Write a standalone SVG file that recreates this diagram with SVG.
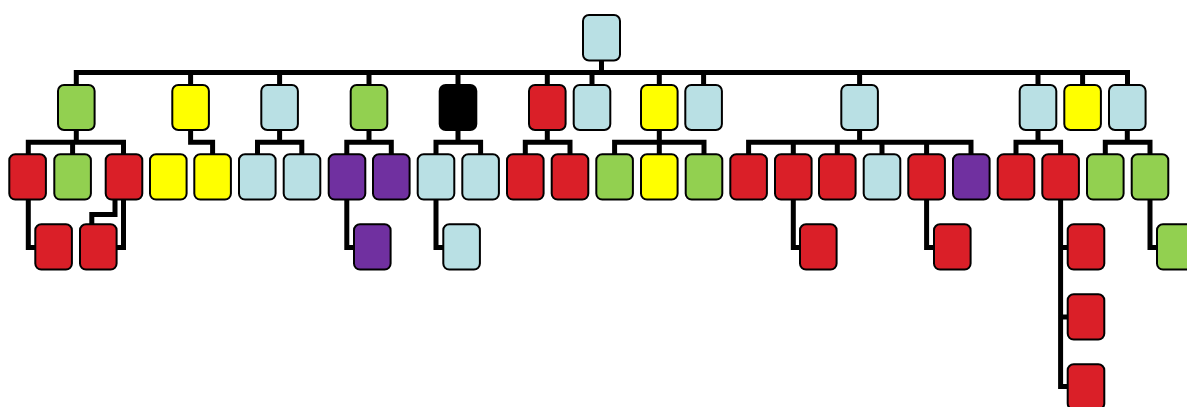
<svg xmlns="http://www.w3.org/2000/svg" width="1187" height="407" viewBox="0 0 1187 407">
<style>
.n{stroke:#000;stroke-width:2;rx:6;ry:6}
.r{fill:#DA1F28}.g{fill:#92D050}.y{fill:#FFFF00}.b{fill:#B9E0E4}.p{fill:#7030A0}.k{fill:#000}
.c path{fill:none;stroke:#000;stroke-width:5;stroke-linejoin:miter;stroke-linecap:butt}
</style>
<rect width="1187" height="407" fill="#fff"/>
<g id="connectors" class="c">
<path d="M601.5 60 V72.5"/>
<path d="M76.3 86 V72.5 H1127.5 V86"/>
<path d="M190.6 72.5 V86 M279.6 72.5 V86 M369 72.5 V86 M458 72.5 V86 M547.3 72.5 V86 M592 72.5 V86 M659.3 72.5 V86 M703.6 72.5 V86 M859.6 72.5 V86 M1038 72.5 V86 M1082.6 72.5 V86"/>
<path d="M36 247.5 H28.3 V142.3 H123.5 V247.5 H116"/>
<path d="M72.6 142.3 V156 M76.3 130 V142.3"/>
<path d="M115 200 V214.5 H91.8 V226"/>
<path d="M190.6 130 V142.3 H212.6 V156"/>
<path d="M257.5 156 V142.3 H301.8 V156 M279.6 130 V142.3"/>
<path d="M355 247.5 H346.8 V142.3 H391.3 V156 M369 130 V142.3"/>
<path d="M444 247.5 H436 V142.3 H480.6 V156 M458 130 V142.3"/>
<path d="M525.3 156 V142.3 H570 V156 M547.3 130 V142.3"/>
<path d="M614.6 156 V142.3 H704 V156 M659.3 130 V156"/>
<path d="M748.6 156 V142.3 H971 V156 M837.3 142.3 V156 M882 142.3 V156 M859.6 130 V142.3"/>
<path d="M793.3 142.3 V247.5 H801 M926.6 142.3 V247.5 H935"/>
<path d="M1016 156 V142.3 H1060.6 V386.5 H1068 M1060.6 247.5 H1068 M1060.6 317 H1068 M1038 130 V142.3"/>
<path d="M1105.3 156 V142.3 H1150 V247.5 H1158 M1127.3 130 V142.3"/>
</g>
<g id="root"><rect class="n b" x="583" y="15" width="37" height="45.5"/></g>
<g id="l1">
<g id="a1"><rect class="n g" x="58" y="85" width="36.6" height="45"/></g>
<g id="a2"><rect class="n y" x="172.3" y="85" width="36.6" height="45"/></g>
<g id="a3"><rect class="n b" x="261.3" y="85" width="36.6" height="45"/></g>
<g id="a4"><rect class="n g" x="350.7" y="85" width="36.6" height="45"/></g>
<g id="a5"><rect class="n k" x="439.7" y="85" width="36.6" height="45"/></g>
<g id="a6"><rect class="n r" x="529" y="85" width="36.6" height="45"/></g>
<g id="a7"><rect class="n b" x="573.7" y="85" width="36.6" height="45"/></g>
<g id="a8"><rect class="n y" x="641" y="85" width="36.6" height="45"/></g>
<g id="a9"><rect class="n b" x="685.3" y="85" width="36.6" height="45"/></g>
<g id="a10"><rect class="n b" x="841.3" y="85" width="36.6" height="45"/></g>
<g id="a11"><rect class="n b" x="1019.7" y="85" width="36.6" height="45"/></g>
<g id="a12"><rect class="n y" x="1064.3" y="85" width="36.6" height="45"/></g>
<g id="a13"><rect class="n b" x="1109" y="85" width="36.6" height="45"/></g>
</g>
<g id="l2">
<g id="b1"><rect class="n r" x="9.3" y="154.3" width="36.6" height="45.3"/></g>
<g id="b2"><rect class="n g" x="54.3" y="154.3" width="36.6" height="45.3"/></g>
<g id="b3"><rect class="n r" x="105.7" y="154.3" width="36.6" height="45.3"/></g>
<g id="b4"><rect class="n y" x="150" y="154.3" width="36.6" height="45.3"/></g>
<g id="b5"><rect class="n y" x="194.3" y="154.3" width="36.6" height="45.3"/></g>
<g id="b6"><rect class="n b" x="239" y="154.3" width="36.6" height="45.3"/></g>
<g id="b7"><rect class="n b" x="283.7" y="154.3" width="36.6" height="45.3"/></g>
<g id="b8"><rect class="n p" x="328.7" y="154.3" width="36.6" height="45.3"/></g>
<g id="b9"><rect class="n p" x="373" y="154.3" width="36.6" height="45.3"/></g>
<g id="b10"><rect class="n b" x="417.7" y="154.3" width="36.6" height="45.3"/></g>
<g id="b11"><rect class="n b" x="462.3" y="154.3" width="36.6" height="45.3"/></g>
<g id="b12"><rect class="n r" x="507" y="154.3" width="36.6" height="45.3"/></g>
<g id="b13"><rect class="n r" x="551.7" y="154.3" width="36.6" height="45.3"/></g>
<g id="b14"><rect class="n g" x="596.3" y="154.3" width="36.6" height="45.3"/></g>
<g id="b15"><rect class="n y" x="641" y="154.3" width="36.6" height="45.3"/></g>
<g id="b16"><rect class="n g" x="685.7" y="154.3" width="36.6" height="45.3"/></g>
<g id="b17"><rect class="n r" x="730.3" y="154.3" width="36.6" height="45.3"/></g>
<g id="b18"><rect class="n r" x="775" y="154.3" width="36.6" height="45.3"/></g>
<g id="b19"><rect class="n r" x="819" y="154.3" width="36.6" height="45.3"/></g>
<g id="b20"><rect class="n b" x="863.7" y="154.3" width="36.6" height="45.3"/></g>
<g id="b21"><rect class="n r" x="908.3" y="154.3" width="36.6" height="45.3"/></g>
<g id="b22"><rect class="n p" x="953" y="154.3" width="36.6" height="45.3"/></g>
<g id="b23"><rect class="n r" x="997.7" y="154.3" width="36.6" height="45.3"/></g>
<g id="b24"><rect class="n r" x="1042.3" y="154.3" width="36.6" height="45.3"/></g>
<g id="b25"><rect class="n g" x="1087" y="154.3" width="36.6" height="45.3"/></g>
<g id="b26"><rect class="n g" x="1131.7" y="154.3" width="36.6" height="45.3"/></g>
</g>
<g id="l3">
<g id="c1"><rect class="n r" x="35.3" y="224.3" width="36.6" height="45.3"/></g>
<g id="c2"><rect class="n r" x="80" y="224.3" width="36.6" height="45.3"/></g>
<g id="c3"><rect class="n p" x="354" y="224.3" width="36.6" height="45.3"/></g>
<g id="c4"><rect class="n b" x="443.3" y="224.3" width="36.6" height="45.3"/></g>
<g id="c5"><rect class="n r" x="800" y="224.3" width="36.6" height="45.3"/></g>
<g id="c6"><rect class="n r" x="934" y="224.3" width="36.6" height="45.3"/></g>
<g id="c7"><rect class="n r" x="1067.7" y="224.3" width="36.6" height="45.3"/></g>
<g id="c8"><rect class="n g" x="1157" y="224.3" width="36.6" height="45.3"/></g>
</g>
<g id="l4">
<g id="d1"><rect class="n r" x="1067.7" y="294.3" width="36.6" height="45.3"/></g>
<g id="e1"><rect class="n r" x="1067.7" y="364.3" width="36.6" height="45.3"/></g>
</g>
</svg>
